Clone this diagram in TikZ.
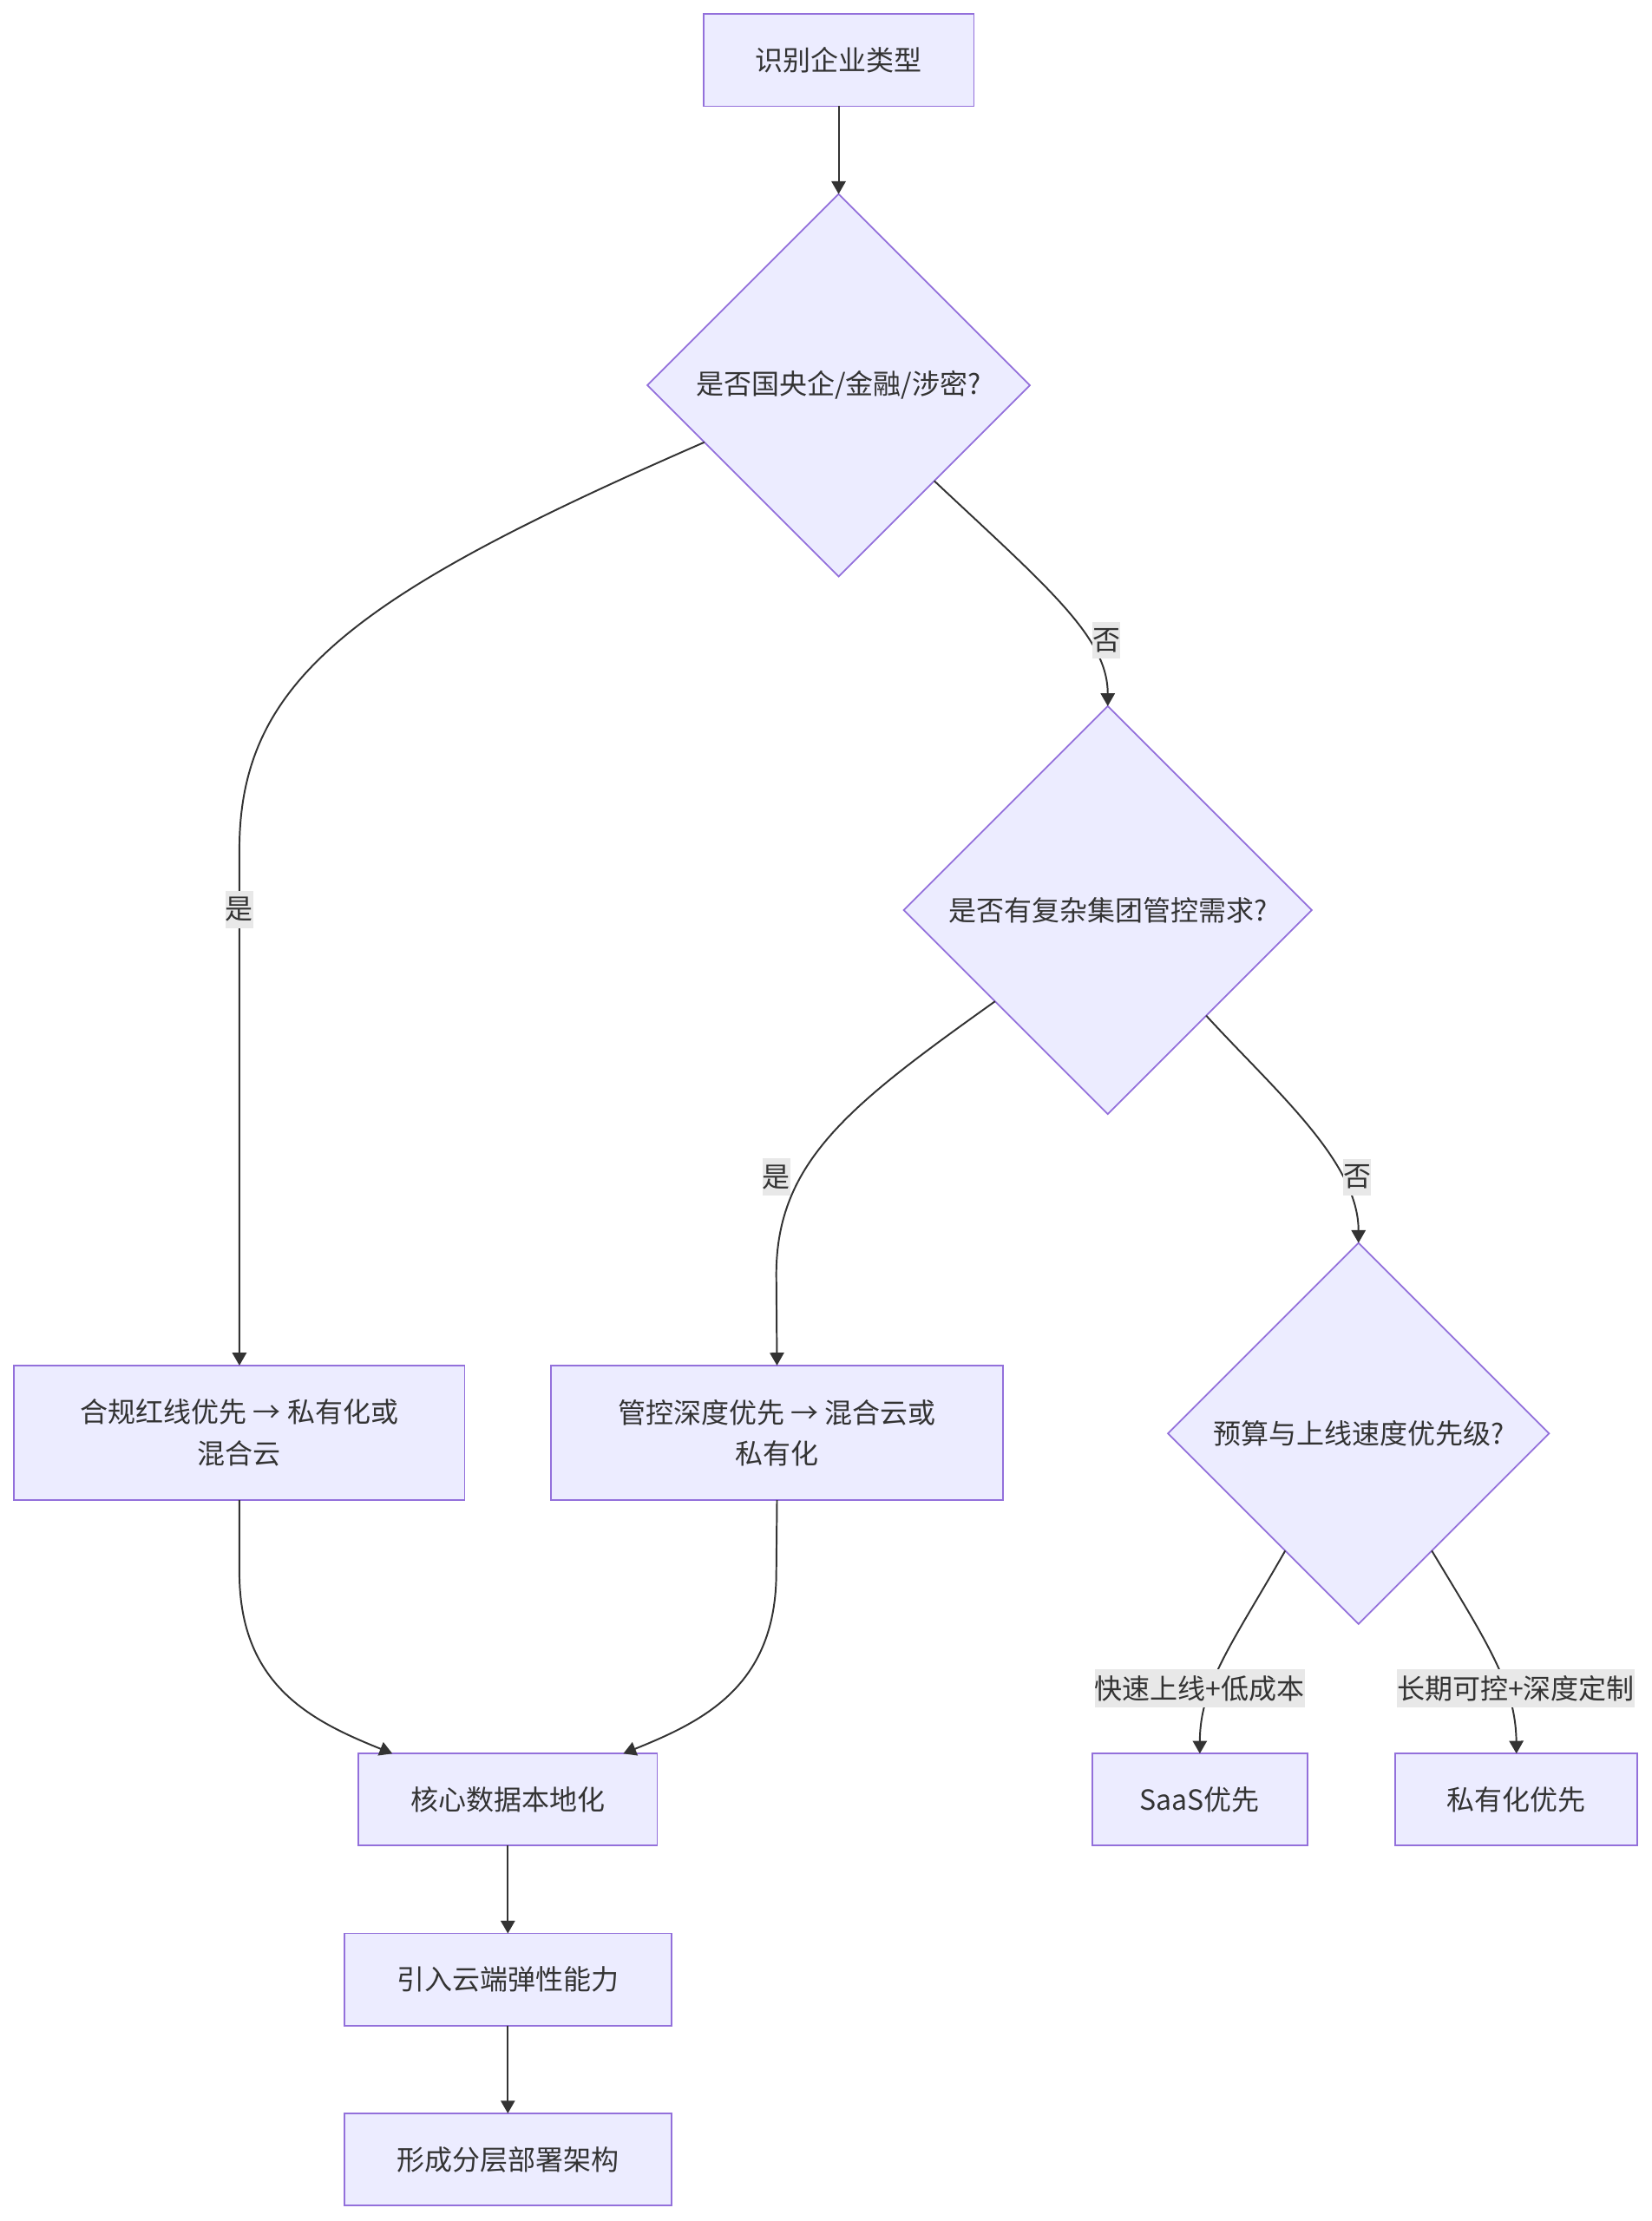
\documentclass[tikz,border=0pt]{standalone}
\usepackage{fontspec}
\setmainfont{Noto Sans CJK SC}
\usepackage{xcolor}
\usepackage{tikz}
\usetikzlibrary{arrows.meta,positioning,calc,shapes.geometric}
\definecolor{FlowFill}{HTML}{ECECFF}
\definecolor{FlowLine}{HTML}{9370DB}
\definecolor{FlowEdge}{HTML}{333333}
\definecolor{FlowLabel}{HTML}{E8E8E8}

\begin{document}
\begin{tikzpicture}[x=1pt,y=-1pt,node distance=62pt and 62pt,font=\fontsize{19.6pt}{29pt}\selectfont,text=FlowEdge,box/.style={draw=FlowLine,line width=1.1pt,fill=FlowFill,align=center,inner sep=0pt,outer sep=0pt,minimum height=65pt},decision/.style={diamond,aspect=1,draw=FlowLine,line width=1.1pt,fill=FlowFill,align=center,inner sep=0pt,outer sep=0pt},arrow/.style={-{Triangle[length=9pt,width=10pt]},line width=1.2pt,FlowEdge},lbl/.style={fill=FlowLabel,inner xsep=0pt,inner ysep=4.5pt,text=FlowEdge}]
  \useasboundingbox (0,0) rectangle (1166,1568);
  \node[box,minimum width=191pt] (start) at (592,42.5) {识别企业类型};
  \node[decision,below=of start,minimum width=270pt,minimum height=270pt] (soe) {是否国央企/金融/涉密?};
  \node[decision,minimum width=288pt,minimum height=288pt] (group) at (782,642.5) {是否有复杂集团管控需求?};
  \node[decision,minimum width=269pt,minimum height=269pt] (budget) at (959,1012) {预算与上线速度优先级?};
  \node[box,minimum width=318pt,minimum height=95pt] (comply) at (169,1011.5) {合规红线优先 → 私有化或\\混合云};
  \node[box,right=61pt of comply,minimum width=319pt,minimum height=95pt] (control) {管控深度优先 → 混合云或\\私有化};
  \node[box,minimum width=211pt] (local) at (358.5,1270.5) {核心数据本地化};
  \node[box,below=of local,minimum width=231pt] (elastic) {引入云端弹性能力};
  \node[box,below=of elastic,minimum width=231pt] (layered) {形成分层部署架构};
  \node[box,minimum width=152pt] (saas) at (847,1270.5) {SaaS优先};
  \node[box,right=of saas,minimum width=171pt] (private) {私有化优先};
  \draw[arrow] (start)--(soe);
  \draw[arrow] (soe.203) .. controls (250,420) and (169,480) .. (169,600) -- (comply.north)
    node[lbl] at (169,642) {是};
  \draw[arrow] (soe.-45) .. controls (740,415) and (782,450) .. (group.north)
    node[lbl] at (781,452) {否};
  \draw[arrow] (group.219) .. controls (600,780) and (548,820) .. (548,900) -- (control.north)
    node[lbl] at (548,831) {是};
  \draw[arrow] (group.-47) .. controls (900,770) and (959,820) .. (budget.north)
    node[lbl] at (958,831) {否};
  \draw[arrow] (budget.238) .. controls (870,1160) and (847,1190) .. (saas.north)
    node[lbl] at (847,1192) {快速上线+低成本};
  \draw[arrow] (budget.302) .. controls (1050,1160) and (1070,1190) .. (private.north)
    node[lbl] at (1070,1192) {长期可控+深度定制};
  \draw[arrow] (comply.south) -- (169,1110) .. controls (169,1190) and (220,1215) .. ([xshift=24pt]local.north west);
  \draw[arrow] (control.south) -- (548,1110) .. controls (548,1190) and (497,1215) .. ([xshift=-24pt]local.north east);
  \draw[arrow] (local)--(elastic);
  \draw[arrow] (elastic)--(layered);
\end{tikzpicture}
\end{document}
